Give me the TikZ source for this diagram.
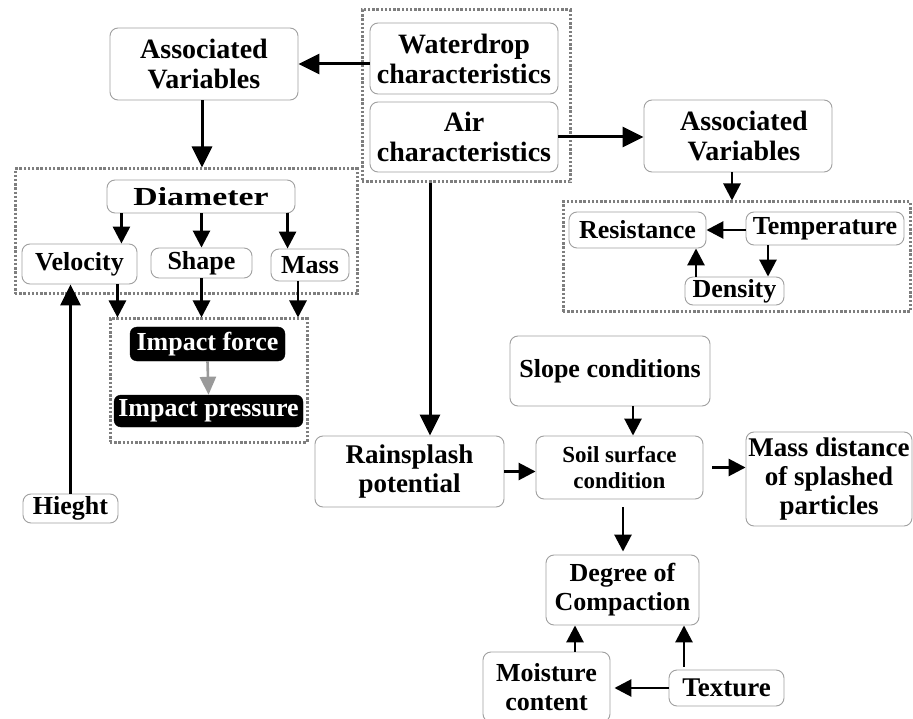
\documentclass[tikz,border=0pt]{standalone}
\usepackage{fontspec}
\usepackage{graphicx}
\setmainfont{Liberation Serif}
\usetikzlibrary{arrows.meta,calc}
\definecolor{boxgray}{HTML}{A0A0A0}
\definecolor{dotgray}{HTML}{7E7E7E}
\definecolor{arrgray}{HTML}{9A9A9A}
\begin{document}
\begin{tikzpicture}[x=1pt,y=-1pt,
  box/.style={draw=boxgray, line width=0.9pt, rounded corners=8pt, inner sep=0pt, align=center, text=black},
  blk/.style={fill=black, draw=black, rounded corners=7pt, inner sep=0pt, align=center, text=white, font=\bfseries\fontsize{26}{29}\selectfont},
  dotbox/.style={draw=dotgray, line width=3pt, dash pattern=on 2.4pt off 1.8pt, inner sep=0pt},
  fA/.style={font=\bfseries\fontsize{28}{30}\selectfont},
  fB/.style={font=\bfseries\fontsize{27}{29}\selectfont},
  fC/.style={font=\bfseries\fontsize{26}{29}\selectfont},
  fD/.style={font=\bfseries\fontsize{23}{26}\selectfont},
  arr/.style={line width=2.8pt, -{Triangle[length=17pt,width=17pt]}},
  bigarr/.style={line width=3pt, -{Triangle[length=21pt,width=20pt]}},
  grayarr/.style={draw=arrgray, line width=2.6pt, -{Triangle[length=18pt,width=16pt]}}
]
\fill[white] (0,0) rectangle (913,719);
\useasboundingbox (0,0) rectangle (913,719);

% dotted group boxes
\node[dotbox, minimum width=208pt, minimum height=172pt] (tdot) at (466,96) {};
\node[dotbox, minimum width=347pt, minimum height=110pt] (rdot) at (736.5,257) {};
\node[dotbox, minimum width=342pt, minimum height=125pt] (ldot) at (186,231.5) {};
\node[dotbox, minimum width=197pt, minimum height=123pt] (idot) at (208.5,380.5) {};

% top
\node[box, fA, minimum width=188pt, minimum height=72pt] (avL) at (204,64) {Associated\\Variables};
\node[box, fA, minimum width=188pt, minimum height=71pt] (water) at (464,58.5) {Waterdrop\\characteristics};
\node[box, fA, minimum width=188pt, minimum height=70pt] (air) at (464,137) {Air\\characteristics};
\node[box, fA, minimum width=188pt, minimum height=72pt] (avR) at (738,136) {\hspace*{12pt}Associated\\\hspace*{12pt}Variables};

% air variables
\node[box, fC, minimum width=137pt, minimum height=36pt] (resist) at (637.5,230) {Resistance};
\node[box, fC, minimum width=158pt, minimum height=33pt] (temp) at (825,228.5) {Temperature};
\node[box, fC, minimum width=99pt, minimum height=28pt] (dens) at (734.5,291) {Density};

% waterdrop variables
\node[box, fC, minimum width=188pt, minimum height=33pt] (diam) at (201,196.5) {\scalebox{1.3}[1]{Diameter}};
\node[box, fC, minimum width=115pt, minimum height=40pt] (vel) at (79.5,264) {Velocity};
\node[box, fC, minimum width=101pt, minimum height=30pt] (shape) at (201.5,263) {Shape};
\node[box, fC, minimum width=78pt, minimum height=32pt] (mass) at (310,265) {Mass};

% impact
\node[blk, minimum width=155pt, minimum height=34pt] (iforce) at (207.5,344) {Impact force};
\node[blk, minimum width=189pt, minimum height=32pt] (ipress) at (208.5,411) {Impact pressure};

\node[box, fC, minimum width=95pt, minimum height=29pt] (hieght) at (70.5,508.5) {Hieght};

% lower right
\node[box, fB, minimum width=189pt, minimum height=71pt] (rain) at (409.5,471.5) {Rainsplash\\potential};
\node[box, fC, minimum width=200pt, minimum height=70pt] (slope) at (610,371) {Slope conditions};
\node[box, fD, minimum width=167pt, minimum height=63pt] (soil) at (619.5,467.5) {Soil surface\\condition};
\node[box, fB, minimum width=166pt, minimum height=94pt] (massd) at (829,479) {Mass distance\\of splashed\\particles};
\node[box, fC, minimum width=153pt, minimum height=70pt] (degree) at (622.5,590) {Degree of\\Compaction};
\node[box, fC, minimum width=127pt, minimum height=70pt] (moist) at (546.5,687) {Moisture\\content};
\node[box, fB, minimum width=115pt, minimum height=36pt] (texture) at (726.5,688) {Texture};

% connectors
\draw[bigarr] (water.west |- avL.east) -- (avL.east);
\draw[bigarr] (air.east) -- (air.east -| avR.west);
\draw[bigarr] ([xshift=-2pt]avL.south) -- ([xshift=-2pt]avL.south |- ldot.north);
\draw[arr] ([xshift=-6pt]avR.south) -- ([xshift=-6pt]avR.south |- rdot.north);

\draw[arr] (temp.west |- resist.east) -- (resist.east);
\draw[arr] ([xshift=-57pt]temp.south) -- ([xshift=-57pt]temp.south |- dens.north);
\draw[arr] ([xshift=-38.5pt]dens.north) -- ([xshift=-38.5pt]dens.north |- resist.south);

\draw[arr] ([xshift=-16pt]vel.north east |- diam.south) -- ([xshift=-16pt]vel.north east);
\draw[arr] (shape.north |- diam.south) -- (shape.north);
\draw[arr] ([xshift=17pt]mass.north west |- diam.south) -- ([xshift=17pt]mass.north west);

\draw[arr] ([xshift=-20pt]vel.south east) -- ([xshift=-20pt]vel.south east |- idot.north);
\draw[arr] (shape.south) -- (shape.south |- idot.north);
\draw[arr] ([xshift=-12pt]mass.south) -- ([xshift=-12pt]mass.south |- idot.north);

\draw[grayarr] (iforce.south) -- (ipress.north);
\draw[bigarr] (hieght.north) -- (hieght.north |- vel.south);

\draw[bigarr] ([xshift=-36pt]tdot.south) -- ([xshift=-36pt]tdot.south |- rain.north);
\draw[arr] (rain.east) -- (rain.east -| soil.west);
\draw[arr] ([xshift=23pt]slope.south) -- ([xshift=23pt]slope.south |- soil.north);
\draw[arr, shorten <=9pt] (soil.east) -- (soil.east -| massd.west);
\draw[arr, shorten <=8pt, shorten >=3pt] ([xshift=3.5pt]soil.south) -- ([xshift=3.5pt]soil.south |- degree.north);
\draw[arr, shorten >=4pt] (texture.west) -- (texture.west -| moist.east);
\draw[arr] ([xshift=28.5pt]moist.north) -- ([xshift=28.5pt]moist.north |- degree.south);
\draw[arr, shorten <=3pt] ([xshift=-42.5pt]texture.north) -- ([xshift=-42.5pt]texture.north |- degree.south);
\end{tikzpicture}
\end{document}
